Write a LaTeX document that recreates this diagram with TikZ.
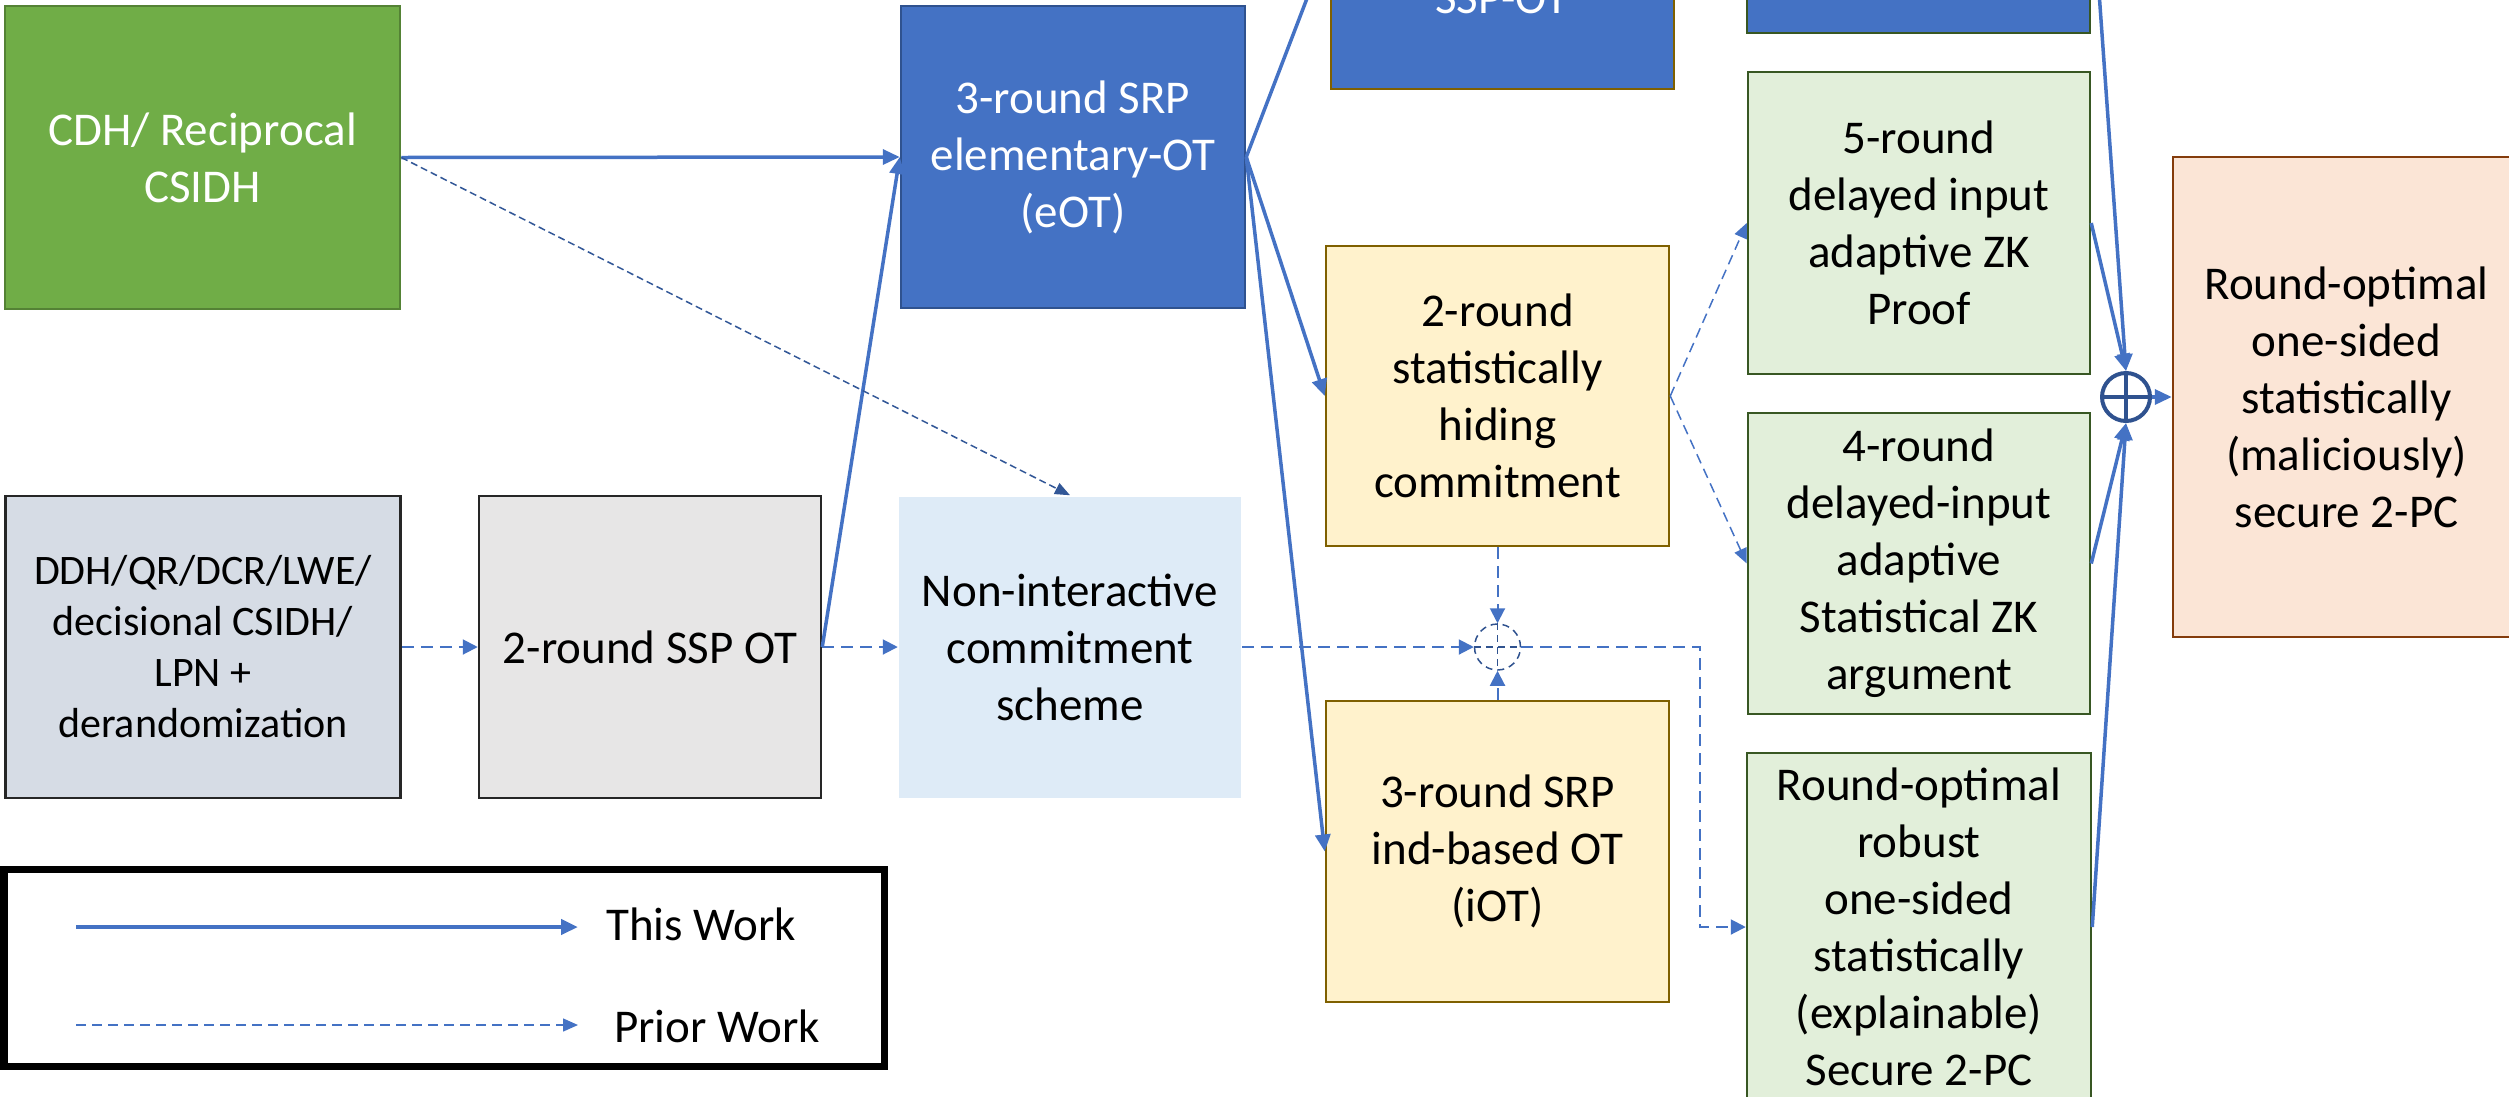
\documentclass[tikz,border=0pt]{standalone}
\usepackage{fontspec}
\setmainfont{Carlito}
\usetikzlibrary{arrows.meta,calc}

\definecolor{lineblue}{HTML}{4472C4}
\definecolor{darkblue}{HTML}{2F528F}
\definecolor{cdhfill}{HTML}{70AD47}
\definecolor{cdhdraw}{HTML}{548235}
\definecolor{ddhfill}{HTML}{D6DCE5}
\definecolor{sspfill}{HTML}{E7E6E6}
\definecolor{nonintfill}{HTML}{DEEBF7}
\definecolor{yelfill}{HTML}{FFF2CC}
\definecolor{yeldraw}{HTML}{7F6000}
\definecolor{grnfill}{HTML}{E2EFDA}
\definecolor{grndraw}{HTML}{385723}
\definecolor{salfill}{HTML}{FBE5D6}
\definecolor{saldraw}{HTML}{843C0C}
\definecolor{boxedge}{HTML}{262626}

\newcommand\boxfont{\fontsize{47}{57}\selectfont}
\newcommand\smallboxfont{\fontsize{42}{51}\selectfont}

\begin{document}
\begin{tikzpicture}[x=1pt,y=-1pt,
  box/.style={draw, line width=2.5pt, inner sep=0pt, align=center, font=\boxfont,
    minimum width=343pt, minimum height=301pt},
  thiswork/.style={draw=lineblue, line width=3.5pt, -{Triangle[length=17pt,width=15pt]}},
  priorwork/.style={draw=lineblue, line width=2pt, dash pattern=on 12pt off 7pt,
    -{Triangle[length=15pt,width=15pt]}},
  priorthin/.style={draw=lineblue, line width=1.5pt, dash pattern=on 10pt off 6pt,
    -{Triangle[length=15pt,width=13pt]}},
  priorfine/.style={draw=darkblue!85!lineblue, line width=1.5pt, dash pattern=on 7pt off 4pt,
    -{Triangle[length=15pt,width=12pt]}},
]
\useasboundingbox (0,0) rectangle (2509,1096);
\clip (0,0) rectangle (2509,1096);

% boxes of the first column
\node[box, fill=cdhfill, draw=cdhdraw, text=white, minimum width=395pt, minimum height=303pt]
  (cdh) at (202.5,157.5) {CDH/ Reciprocal\\CSIDH};
\node[box, fill=ddhfill, draw=boxedge, font=\smallboxfont, minimum width=395pt, minimum height=302pt]
  (ddh) at (203,647) {DDH/QR/DCR/LWE/\\decisional CSIDH/\\LPN +\\derandomization};

% second and third columns
\node[box, fill=sspfill, draw=boxedge, minimum width=342pt, minimum height=302pt]
  (ssp2) at (650,647) {2-round SSP OT};
\node[box, fill=lineblue, draw=darkblue, text=white, minimum width=344pt, minimum height=302pt]
  (eot) at (1073,157) {3-round SRP\\elementary-OT\\(eOT)};
\node[box, draw=none, fill=nonintfill, minimum width=342pt, minimum height=301pt]
  (nonint) at (1070,647) {Non-interactive\\commitment\\scheme};

% fourth column
\node[box, fill=lineblue, draw=yeldraw, minimum height=300pt]
  (sspot) at (1502.5,-61) {};
\node[anchor=base, text=white, font=\boxfont, inner sep=0pt] (sspotlbl) at (1502,13) {SSP-OT};
\node[box, fill=yelfill, draw=yeldraw, minimum height=300pt]
  (commit) at (1497.5,396) {2-round\\statistically\\hiding\\commitment};
\node[box, fill=yelfill, draw=yeldraw]
  (iot) at (1497.5,851.5) {3-round SRP\\ind-based OT\\(iOT)};

% fifth column
\node[box, fill=lineblue, draw=grndraw, minimum height=300pt]
  (topr) at (1918.5,-117) {};
\node[box, fill=grnfill, draw=grndraw, minimum width=342pt, minimum height=302pt]
  (zk5) at (1919,223) {5-round\\delayed input\\adaptive ZK\\Proof};
\node[box, fill=grnfill, draw=grndraw, minimum width=342pt]
  (zk4) at (1919,563.5) {4-round\\delayed-input\\adaptive\\Statistical ZK\\argument};
\node[box, fill=grnfill, draw=grndraw, minimum width=344pt, minimum height=348pt]
  (robust) at (1919,927) {Round-optimal\\robust\\one-sided\\statistically\\(explainable)\\Secure 2-PC};

% result
\node[box, fill=salfill, draw=saldraw, minimum width=347pt, minimum height=480pt]
  (final) at (2346.5,397) {Round-optimal\\one-sided\\statistically\\(maliciously)\\secure 2-PC};

% combining junctions
\node[circle, draw=darkblue, line width=1.5pt, dash pattern=on 7pt off 5pt,
  minimum size=46pt, inner sep=0pt] (join) at (1497.5,647) {};
\draw[darkblue, line width=1.5pt, dash pattern=on 7pt off 5pt]
  (join.north) -- (join.south) (join.west) -- (join.east);
\node[circle, draw=darkblue, line width=4pt, minimum size=48pt, inner sep=0pt]
  (plus) at (2126,397) {};
\draw[darkblue, line width=4pt] (plus.north) -- (plus.south) (plus.west) -- (plus.east);

% this work
\draw[thiswork] (cdh.east) -- (eot.west);
\draw[thiswork] (ssp2.east) -- (eot.west);
\draw[thiswork] (eot.east) -- (sspot.west);
\draw[thiswork] (eot.east) -- (commit.west);
\draw[thiswork] (eot.east) -- (iot.west);
\draw[thiswork] (zk5.east) -- (plus.north);
\draw[thiswork] (topr.east) -- (plus.north);
\draw[thiswork] (zk4.east) -- (plus.south);
\draw[thiswork] (robust.east) -- (plus.south);
\draw[thiswork] (plus.east) -- (final.west);

% prior work
\draw[priorfine] (cdh.east) -- (nonint.north);
\draw[priorwork] (ddh.east) -- (ssp2.west);
\draw[priorwork] (ssp2.east) -- (nonint.west);
\draw[priorwork] (nonint.east) -- (join.west);
\draw[priorwork] (commit.south) -- (join.north);
\draw[priorwork] (iot.north) -- (join.south);
\coordinate (turn) at (1700,647);
\draw[priorwork] (join.east) -- (turn) |- (robust.west);
\draw[priorthin] (commit.east) -- (zk5.west);
\draw[priorthin] (commit.east) -- (zk4.west);

% legend
\node[draw=black, line width=7pt, minimum width=880pt, minimum height=197pt, inner sep=0pt]
  (legend) at (444,967.5) {};
\coordinate (thisA) at (76,927);
\coordinate (thisB) at (578,927);
\draw[thiswork, line width=4.5pt] (thisA) -- (thisB);
\node[anchor=west, font=\boxfont, inner sep=0pt] (thislbl) at (606,924) {This Work};
\coordinate (priorA) at (76,1025);
\coordinate (priorB) at (578,1025);
\draw[priorthin] (priorA) -- (priorB);
\node[anchor=west, font=\boxfont, inner sep=0pt] (priorlbl) at (614,1026) {Prior Work};
\end{tikzpicture}
\end{document}
